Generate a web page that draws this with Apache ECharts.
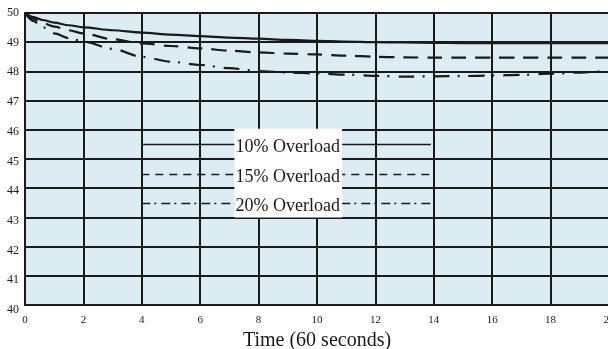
<!DOCTYPE html>
<html><head><meta charset="utf-8">
<script src="https://cdn.jsdelivr.net/npm/echarts@6/dist/echarts.min.js"></script>
<style>html,body{margin:0;padding:0;background:#fff}#c{width:608px;height:349px}</style>
</head><body><div id="c"></div>
<script>
const timeX = [0, 0.3, 0.6, 1, 1.5, 2, 3, 4, 5, 6, 7, 8, 9, 10, 11, 12, 13, 14, 15, 16, 17, 18, 19, 20];
const load10 = [50, 49.86, 49.76, 49.67, 49.58, 49.51, 49.41, 49.33, 49.26, 49.21, 49.16, 49.12, 49.08, 49.05, 49.02, 49.0, 48.99, 48.98, 48.97, 48.97, 48.97, 48.97, 48.97, 48.97];
const load15 = [50, 49.8, 49.66, 49.53, 49.41, 49.30, 49.1, 48.96, 48.87, 48.79, 48.71, 48.65, 48.61, 48.58, 48.54, 48.50, 48.48, 48.47, 48.47, 48.47, 48.47, 48.47, 48.47, 48.47];
const load20 = [50, 49.72, 49.52, 49.30, 49.14, 49.02, 48.77, 48.50, 48.33, 48.22, 48.11, 48.01, 47.96, 47.93, 47.89, 47.85, 47.82, 47.83, 47.84, 47.86, 47.88, 47.92, 47.96, 48.02];
const seriesNames = ['10% Overload', '15% Overload', '20% Overload'];
const xTicks = [0, 2, 4, 6, 8, 10, 12, 14, 16, 18, 20];
const yTicks = [40, 41, 42, 43, 44, 45, 46, 47, 48, 49, 50];
const xTitle = 'Time (60 seconds)';

const serif = '"Liberation Serif", "DejaVu Serif", serif';
const ink = '#1a1a1a';
const chart = echarts.init(document.getElementById('c'));
const pair = ys => timeX.map((x, i) => [x, ys[i]]);
const curveStyles = [
  {type: 'solid'},
  {type: [15, 9]},
  {type: [16, 8, 2, 9]}
];
const legendDash = [null, [8, 6], [9, 4, 2, 5]];
const data = [load10, load15, load20];

const GL = 25, GT = 13, GW = 584, GH = 292;
const px = x => GL + x / 20 * GW;
const py = y => GT + (50 - y) / 10 * GH;

const graphics = [];
graphics.push({type: 'rect', z: 100, shape: {x: px(7.17), y: py(46) - 1, width: px(10.86) - px(7.17), height: py(43) - py(46) + 1}, style: {fill: '#ffffff'}});
const legYs = [45.52, 44.5, 43.5];
seriesNames.forEach((n, i) => {
  const y = Math.round(py(legYs[i])) + 0.5;
  graphics.push({type: 'line', z: 50, shape: {x1: px(4) - 0.5, y1: y, x2: px(13.9), y2: y}, style: {stroke: ink, lineWidth: 1.6, lineDash: legendDash[i]}});
  graphics.push({type: 'text', z: 101, x: px(9.0), y: y + 3, style: {text: n, font: '18px ' + serif, fill: ink, textAlign: 'center', textVerticalAlign: 'middle'}});
});

chart.setOption({
  animation: false,
  grid: [
    {left: GL, top: GT, width: GW, height: GH, show: true, backgroundColor: '#dbedf3', borderColor: ink, borderWidth: 2, containLabel: false, outerBoundsMode: 'none'},
    {left: GL, top: 12.7, width: GW, height: 297.3, show: false, containLabel: false, outerBoundsMode: 'none'}
  ],
  xAxis: [
    {type: 'value', min: 0, max: 20, interval: 2, gridIndex: 0,
     axisLine: {show: true, lineStyle: {color: ink, width: 2}}, axisTick: {show: false},
     splitLine: {show: true, lineStyle: {color: ink, width: 2}},
     axisLabel: {fontFamily: serif, fontSize: 11, color: ink, margin: 10, hideOverlap: false,
       formatter: v => xTicks.includes(v) ? String(v) : ''},
     name: xTitle, nameLocation: 'middle', nameGap: 19,
     nameTextStyle: {fontFamily: serif, fontSize: 20, color: ink}},
    {type: 'value', min: 0, max: 20, gridIndex: 1, show: false}
  ],
  yAxis: [
    {type: 'value', min: 40, max: 50, interval: 1, gridIndex: 0,
     axisLine: {show: true, lineStyle: {color: ink, width: 2}}, axisTick: {show: false},
     splitLine: {show: true, lineStyle: {color: ink, width: 2}},
     axisLabel: {show: false}},
    {type: 'value', min: 40, max: 50, interval: 1, gridIndex: 1,
     axisLine: {show: false}, axisTick: {show: false}, splitLine: {show: false},
     axisLabel: {fontFamily: serif, fontSize: 12, color: ink, margin: 6,
       formatter: v => yTicks.includes(v) ? String(v) : ''}}
  ],
  series: data.map((d, i) => ({
    name: seriesNames[i], type: 'line', data: pair(d), xAxisIndex: 0, yAxisIndex: 0,
    showSymbol: false, smooth: 0.3, smoothMonotone: 'x', z: 5,
    lineStyle: {color: ink, width: 2.2, type: curveStyles[i].type}
  })),
  graphic: graphics
});
</script></body></html>
